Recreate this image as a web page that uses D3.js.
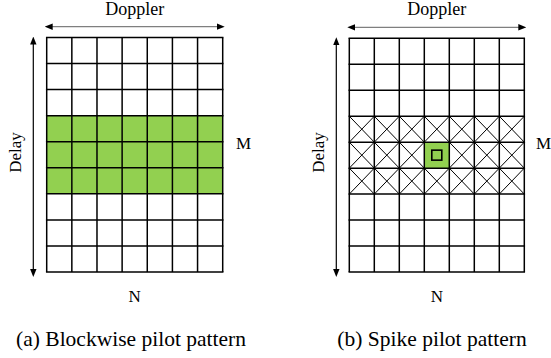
<!DOCTYPE html>
<html>
<head>
<meta charset="utf-8">
<script src="https://cdn.jsdelivr.net/npm/d3@7"></script>
<style>
  body { margin: 0; background: #fff; }
  svg { display: block; }
  text { font-family: 'Liberation Serif', 'DejaVu Serif', serif; }
</style>
</head>
<body>
<svg id="chart" width="551" height="358"></svg>
<script>
// delay-Doppler grid: M delay bins (rows) x N Doppler bins (columns)
const delayBins = d3.range(9);
const dopplerBins = d3.range(7);

// panel (a): whole rows of pilots
const blockPilotRows = [3, 4, 5];
// panel (b): guard rows crossed out, single spike pilot
const guardRows = [3, 4, 5];
const spikeCell = { row: 4, col: 3 };

const captions = ["(a) Blockwise pilot pattern", "(b) Spike pilot pattern"];
const axisLabels = { top: "Doppler", left: "Delay", right: "M", bottom: "N" };

const GREEN = "#92d050";
const svg = d3.select("#chart");

const defs = svg.append("defs");
function marker(id, path) {
  defs.append("marker")
    .attr("id", id)
    .attr("viewBox", "0 0 10 10")
    .attr("refX", 5).attr("refY", 5)
    .attr("markerWidth", 8).attr("markerHeight", 8)
    .attr("markerUnits", "userSpaceOnUse")
    .attr("orient", "auto")
    .append("path").attr("d", path).attr("fill", "#000");
}
marker("head", "M0,1 L10,5 L0,9 Z");
marker("tail", "M10,1 L0,5 L10,9 Z");

const panels = [
  { x0: 46.7, x1: 222.7, y0: 37.5, y1: 272, arrowY: 26.7, arrowX: 33.3, delayX: 21, mX: 236, kind: "block" },
  { x0: 349.3, x1: 524.3, y0: 38.3, y1: 272, arrowY: 27.3, arrowX: 336.3, delayX: 324, mX: 536, kind: "spike" }
];

panels.forEach((p, i) => {
  const g = svg.append("g");
  const x = d3.scaleBand().domain(dopplerBins).range([p.x0, p.x1]);
  const y = d3.scaleBand().domain(delayBins).range([p.y0, p.y1]);

  const cells = [];
  delayBins.forEach(r => dopplerBins.forEach(c => cells.push({ r, c })));

  const isGreen = d => p.kind === "block"
    ? blockPilotRows.includes(d.r)
    : (d.r === spikeCell.row && d.c === spikeCell.col);

  g.selectAll("rect.cell")
    .data(cells)
    .join("rect")
    .attr("class", "cell")
    .attr("x", d => x(d.c)).attr("y", d => y(d.r))
    .attr("width", x.bandwidth()).attr("height", y.bandwidth())
    .attr("fill", d => isGreen(d) ? GREEN : "#fff");

  if (p.kind === "spike") {
    const crossed = cells.filter(d => guardRows.includes(d.r) && !isGreen(d));
    const cg = g.selectAll("g.cross").data(crossed).join("g").attr("class", "cross");
    cg.append("line")
      .attr("x1", d => x(d.c)).attr("y1", d => y(d.r))
      .attr("x2", d => x(d.c) + x.bandwidth()).attr("y2", d => y(d.r) + y.bandwidth());
    cg.append("line")
      .attr("x1", d => x(d.c) + x.bandwidth()).attr("y1", d => y(d.r))
      .attr("x2", d => x(d.c)).attr("y2", d => y(d.r) + y.bandwidth());
    cg.selectAll("line").attr("stroke", "#000").attr("stroke-width", 1);

    const s = 10;
    g.append("rect")
      .attr("x", x(spikeCell.col) + x.bandwidth() / 2 - s / 2)
      .attr("y", y(spikeCell.row) + y.bandwidth() / 2 - s / 2)
      .attr("width", s).attr("height", s)
      .attr("fill", "none").attr("stroke", "#000").attr("stroke-width", 1.6);
  }

  // grid lines
  g.selectAll("line.v")
    .data(dopplerBins.concat([dopplerBins.length]))
    .join("line")
    .attr("x1", d => d < dopplerBins.length ? x(d) : p.x1)
    .attr("x2", d => d < dopplerBins.length ? x(d) : p.x1)
    .attr("y1", p.y0).attr("y2", p.y1)
    .attr("stroke", "#000").attr("stroke-width", 1.5);
  g.selectAll("line.h")
    .data(delayBins.concat([delayBins.length]))
    .join("line")
    .attr("y1", d => d < delayBins.length ? y(d) : p.y1)
    .attr("y2", d => d < delayBins.length ? y(d) : p.y1)
    .attr("x1", p.x0 - 0.75).attr("x2", p.x1 + 0.75)
    .attr("stroke", "#000").attr("stroke-width", 1.5);

  // arrows
  g.append("line")
    .attr("x1", p.x0 + 2).attr("x2", p.x1 - 2)
    .attr("y1", p.arrowY).attr("y2", p.arrowY)
    .attr("stroke", "#7f7f7f").attr("stroke-width", 1.2)
    .attr("marker-start", "url(#tail)").attr("marker-end", "url(#head)");
  g.append("line")
    .attr("x1", p.arrowX).attr("x2", p.arrowX)
    .attr("y1", p.y0 + 3).attr("y2", p.y1 + 1)
    .attr("stroke", "#000").attr("stroke-width", 1.2)
    .attr("marker-start", "url(#tail)").attr("marker-end", "url(#head)");

  const cx = (p.x0 + p.x1) / 2;
  const serif = "'Liberation Serif', 'DejaVu Serif', serif";
  const label = (sel, size) => sel.attr("font-family", serif).attr("font-size", size).attr("fill", "#000");

  label(g.append("text").attr("x", cx).attr("y", 15).attr("text-anchor", "middle"), 18)
    .text(axisLabels.top);
  label(g.append("text").attr("x", cx).attr("y", 301.5).attr("text-anchor", "middle"), 17)
    .text(axisLabels.bottom);
  label(g.append("text").attr("x", p.mX).attr("y", 148.5), 17)
    .text(axisLabels.right);
  label(g.append("text")
    .attr("transform", `translate(${p.delayX},152.5) rotate(-90)`)
    .attr("text-anchor", "middle"), 17)
    .text(axisLabels.left);
  label(g.append("text").attr("x", i === 0 ? 131 : 432).attr("y", 346)
    .attr("text-anchor", "middle"), 21.5)
    .text(captions[i]);
});
</script>
</body>
</html>
